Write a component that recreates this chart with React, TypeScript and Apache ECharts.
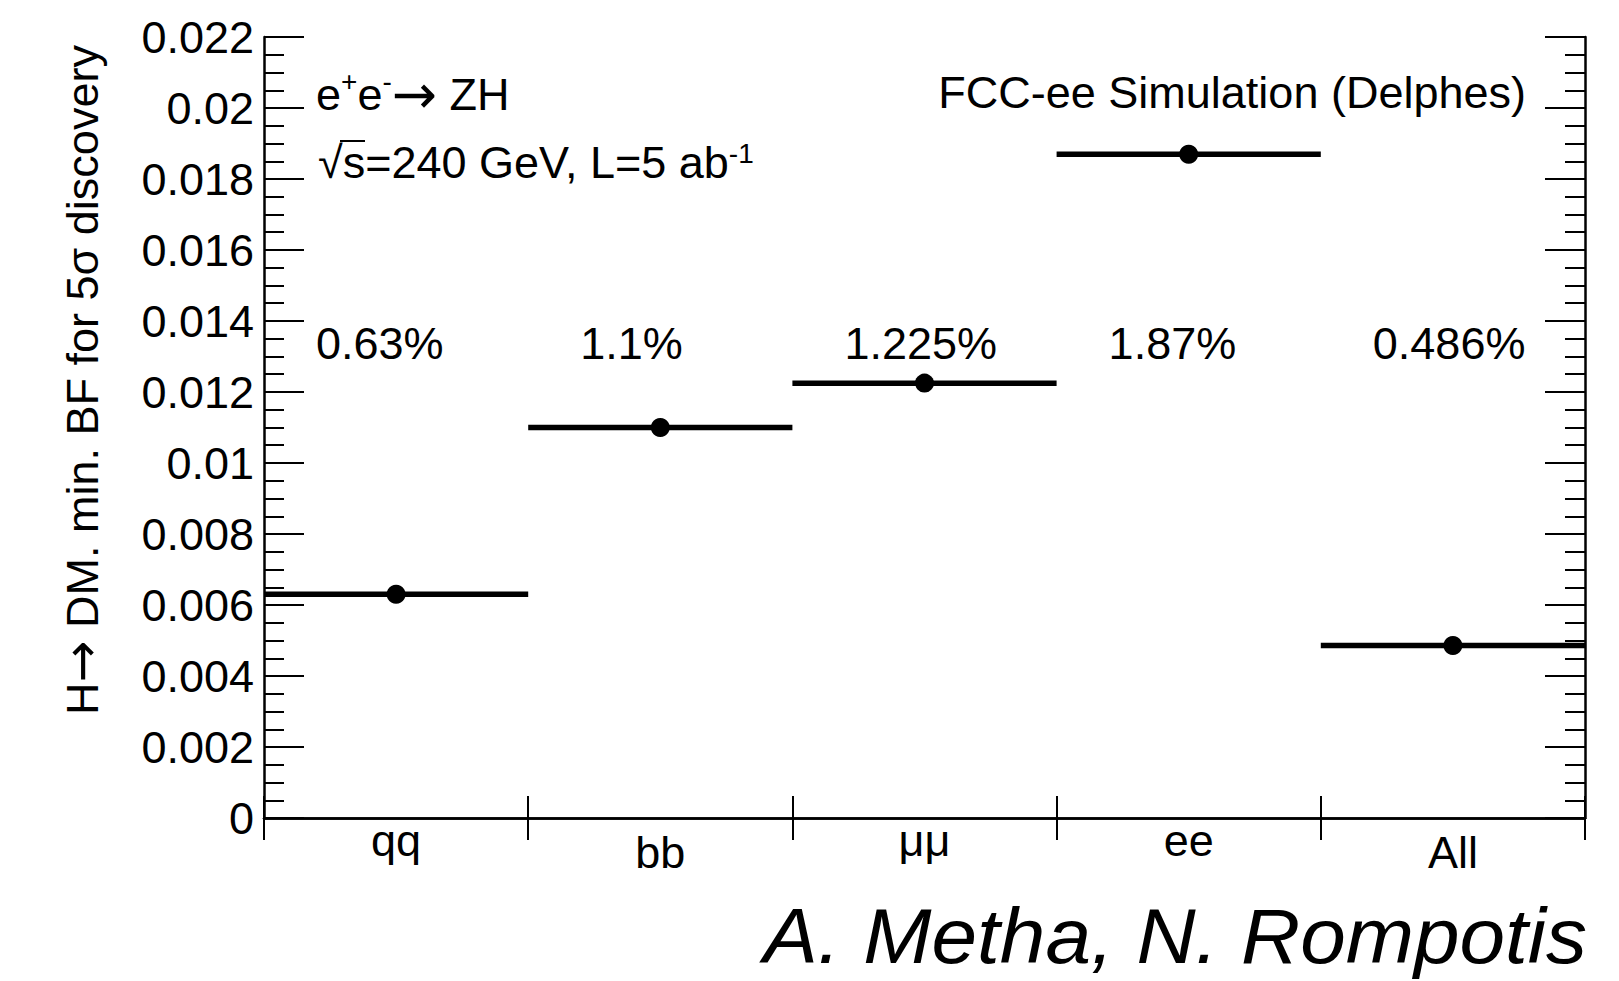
import React, { useEffect, useRef } from "react";
import * as echarts from "echarts";

// ---- data ----
const categories = ["qq", "bb", "μμ", "ee", "All"];
const minBF = [0.0063, 0.011, 0.01225, 0.0187, 0.00486];
const percentLabels = ["0.63%", "1.1%", "1.225%", "1.87%", "0.486%"];
const yMin = 0;
const yMax = 0.022;
const yStep = 0.002;
const yTitle = "H{arr|→} DM. min. BF for 5σ discovery";
const processLine = "e{sup|+}e{sup|-}{arr|→} ZH";
const energyLine = "√s=240 GeV, L=5 ab{sup|-1}";
const simLabel = "FCC-ee Simulation (Delphes)";
const authors = "A. Metha, N. Rompotis";

const FONT = "Liberation Sans, Arial, Helvetica, sans-serif";
const ARROW_FONT = "DejaVu Sans, sans-serif";
const FS = 45;

const GRID = { left: 264, right: 34, top: 37, bottom: 163 };
const W = 1619;
const H = 981;

export default function App() {
  const ref = useRef<HTMLDivElement>(null);

  useEffect(() => {
    if (!ref.current) return;
    const chart = echarts.init(ref.current, undefined, { renderer: "svg" });

    const axisLineStyle = { color: "#000", width: 2.5 };
    const tickLineStyle = { color: "#000", width: 2 };
    const hasAscender = (s: string) => /[A-Zbdfhklt]/.test(s);
    const yFmt = (v: number) => (v === 0 ? "0" : String(+v.toFixed(3)));

    const plotW = W - GRID.left - GRID.right;
    const bandW = plotW / categories.length;

    const richBase = {
      sup: { fontSize: 28, fontFamily: FONT, verticalAlign: "top", fill: "#000" },
      arr: { fontSize: 54, fontFamily: ARROW_FONT, fill: "#000" },
    };

    const graphics: any[] = [
      {
        type: "text",
        x: 82,
        y: 380,
        rotation: Math.PI / 2,
        style: {
          text: yTitle,
          font: `${FS}px ${FONT}`,
          fill: "#000",
          textAlign: "center",
          textVerticalAlign: "middle",
          rich: { arr: { fontSize: 50, fontFamily: ARROW_FONT, fill: "#000" } },
        },
      },
      {
        type: "text",
        x: 316,
        y: 94,
        style: {
          text: processLine,
          font: `${FS}px ${FONT}`,
          fill: "#000",
          textAlign: "left",
          textVerticalAlign: "middle",
          rich: richBase,
        },
      },
      {
        type: "text",
        x: 318,
        y: 162,
        style: {
          text: energyLine,
          font: `${FS}px ${FONT}`,
          fill: "#000",
          textAlign: "left",
          textVerticalAlign: "middle",
          rich: richBase,
        },
      },
      {
        type: "line",
        shape: { x1: 340, y1: 141, x2: 365, y2: 141 },
        style: { stroke: "#000", lineWidth: 2 },
      },
      {
        type: "text",
        x: 1526,
        y: 92,
        style: {
          text: simLabel,
          font: `${FS}px ${FONT}`,
          fill: "#000",
          textAlign: "right",
          textVerticalAlign: "middle",
        },
      },
      {
        type: "text",
        x: 1587,
        y: 936,
        scaleX: 1.05,
        style: {
          text: authors,
          font: `italic 78px ${FONT}`,
          fill: "#000",
          textAlign: "right",
          textVerticalAlign: "middle",
        },
      },
      ...percentLabels.map((t, i) => ({
        type: "text",
        x: GRID.left + i * bandW + 52,
        y: 343,
        style: {
          text: t,
          font: `${FS}px ${FONT}`,
          fill: "#000",
          textAlign: "left",
          textVerticalAlign: "middle",
        },
      })),
    ];

    const yAxisBase = {
      type: "value",
      min: yMin,
      max: yMax,
      interval: yStep,
      axisLine: { show: true, lineStyle: axisLineStyle },
      axisTick: { show: true, inside: true, length: 40, lineStyle: tickLineStyle },
      minorTick: { show: true, splitNumber: 4, length: 20, lineStyle: tickLineStyle },
      splitLine: { show: false },
      minorSplitLine: { show: false },
    };

    chart.setOption({
      animation: false,
      backgroundColor: "#fff",
      grid: { ...GRID, containLabel: false, outerBoundsMode: "none" },
      xAxis: [
        {
          type: "category",
          data: categories,
          position: "bottom",
          boundaryGap: true,
          axisLine: { show: true, lineStyle: axisLineStyle },
          axisTick: { show: true, inside: true, length: 22, lineStyle: tickLineStyle },
          axisLabel: {
            interval: 0,
            margin: 0,
            verticalAlign: "top",
            formatter: (v: string) => (hasAscender(v) ? `{a|${v}}` : `{x|${v}}`),
            rich: {
              a: { fontSize: FS, fontFamily: FONT, color: "#000", padding: [12, 0, 0, 0] },
              x: { fontSize: FS, fontFamily: FONT, color: "#000", padding: [0, 0, 0, 0] },
            },
          },
          splitLine: { show: false },
        },
        {
          type: "category",
          data: categories,
          position: "top",
          boundaryGap: true,
          axisLine: { show: true, lineStyle: axisLineStyle },
          axisTick: { show: true, inside: true, length: 22, lineStyle: tickLineStyle },
          axisLabel: { show: false },
          splitLine: { show: false },
        },
      ],
      yAxis: [
        {
          ...yAxisBase,
          position: "left",
          axisLabel: {
            color: "#000",
            fontSize: FS,
            fontFamily: FONT,
            margin: 10,
            formatter: yFmt,
          },
        },
        {
          ...yAxisBase,
          position: "right",
          axisLabel: { show: false },
        },
      ],
      series: [
        {
          type: "custom",
          xAxisIndex: 0,
          yAxisIndex: 0,
          data: minBF.map((v, i) => [i, v]),
          renderItem: (_params: any, api: any) => {
            const c = api.coord([api.value(0), api.value(1)]);
            const bw = api.size([1, 0])[0];
            return {
              type: "group",
              children: [
                {
                  type: "line",
                  shape: { x1: c[0] - bw / 2, y1: c[1], x2: c[0] + bw / 2, y2: c[1] },
                  style: { stroke: "#000", lineWidth: 5.5 },
                },
                {
                  type: "circle",
                  shape: { cx: c[0], cy: c[1], r: 9.5 },
                  style: { fill: "#000" },
                },
              ],
            };
          },
        },
      ],
      graphic: graphics,
    });

    return () => chart.dispose();
  }, []);

  return (
    <div
      ref={ref}
      style={{ position: "fixed", left: 0, top: 0, width: W, height: H, background: "#fff" }}
    />
  );
}
